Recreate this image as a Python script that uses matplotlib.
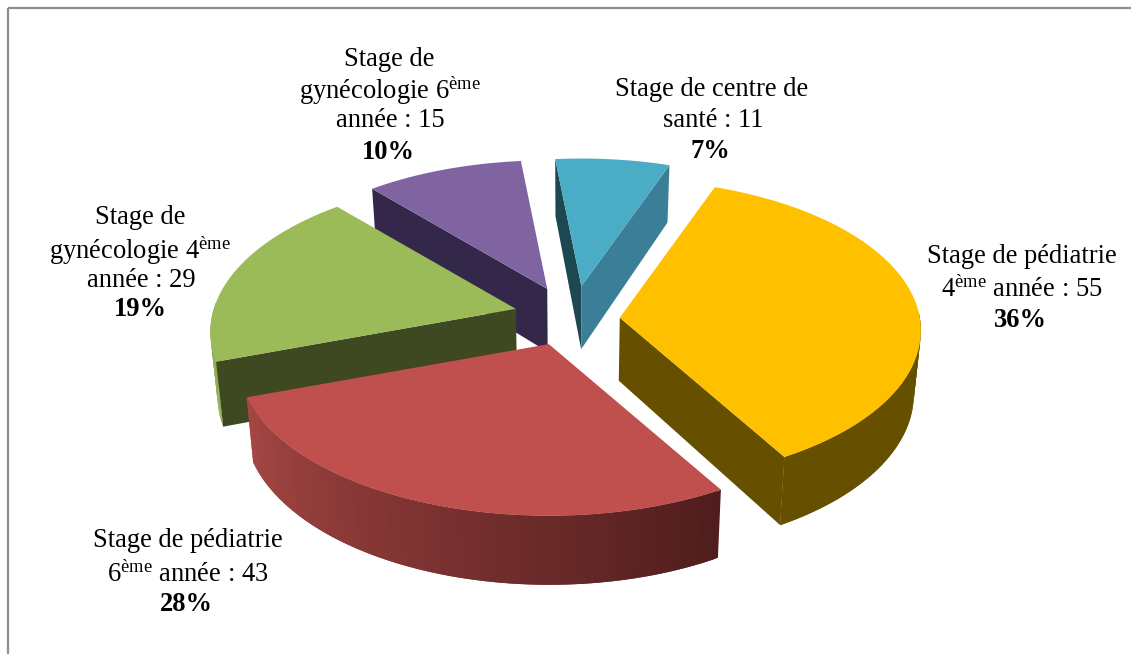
import numpy as np
import matplotlib
matplotlib.use("Agg")
import matplotlib.pyplot as plt
from matplotlib.colors import to_rgb

# --- data ---
categories = ["Stage de pédiatrie 4ème année", "Stage de pédiatrie 6ème année",
              "Stage de gynécologie 4ème année", "Stage de gynécologie 6ème année",
              "Stage de centre de santé"]
values = [55, 43, 29, 15, 11]
label_lines = [
    ["Stage de pédiatrie", "4$^{\\mathrm{ème}}$ année : 55"],
    ["Stage de pédiatrie", "6$^{\\mathrm{ème}}$ année : 43"],
    ["Stage de", "gynécologie 4$^{\\mathrm{ème}}$", "année : 29"],
    ["Stage de", "gynécologie 6$^{\\mathrm{ème}}$", "année : 15"],
    ["Stage de centre de", "santé : 11"],
]
percents = ["36%", "28%", "19%", "10%", "7%"]

# --- style / layout ---
start_angle = 70.0
squash = 0.5
cx, cy = 570.0, 315.0
explode_px = [50, 62, 56, 57, 60]
nudge_xy = [(0, 5), (0, 0), (0, 1), (0, 0), (4, 1)]
radius_px = [300, 310, 302, 298, 297]
persp = [0.085, 0.097, 0.15, 0.16, 0.163]
top_col = ["#FFC000", "#C0504D", "#9BBB59", "#8064A2", "#4BACC6"]
face_start = ["#665000", "#4F1D1D", "#3F4921", "#33284A", "#1D4751"]
face_end = ["#665000", "#A04341", "#3F4921", "#33284A", "#3A7F97"]
rim_start = ["#665000", "#4F1D1D", "#93AE55", "#33284A", "#3A7F97"]
rim_end = ["#665000", "#A64744", "#93AE55", "#33284A", "#3A7F97"]
draw_order = [3, 4, 2, 0, 1]
label_xy = [
    [(1022, 256.5), (1022, 289.5), (1020, 320.5)],
    [(188, 540.5), (188, 574.5), (186, 604.5)],
    [(140, 217.5), (140, 250.5), (141, 280.5), (140, 309.5)],
    [(389, 59.5), (390, 90.5), (390, 120.5), (388, 152.5)],
    [(712, 89.5), (713, 120.5), (710, 151.5)],
]
font_pt = 19.1

plt.rcParams["font.family"] = ["Liberation Serif", "DejaVu Serif"]
plt.rcParams["mathtext.fontset"] = "custom"
plt.rcParams["mathtext.rm"] = "Liberation Serif"
plt.rcParams["mathtext.default"] = "rm"

fig = plt.figure(figsize=(11.31, 6.54), dpi=100, facecolor="white")
ax = fig.add_axes([0, 0, 1, 1])
ax.set_xlim(0, 1131)
ax.set_ylim(654, 0)
ax.axis("off")

# frame (top and left rules)
ax.plot([8, 8], [8, 654], color="#8E8E8E", lw=1.6, solid_capstyle="butt")
ax.plot([8, 1131], [8, 8], color="#8E8E8E", lw=1.6, solid_capstyle="butt")


def depth(v):
    return 63 - 6 * v


def mix(c1, c2, t):
    a, b = np.array(to_rgb(c1)), np.array(to_rgb(c2))
    return tuple(a + (b - a) * t)


total = sum(values)
spans = np.array(values) / total * 360
starts = start_angle - np.concatenate([[0], np.cumsum(spans)[:-1]])

for z, i in enumerate(draw_order):
    z = 3 + z
    a0, a1 = starts[i], starts[i] - spans[i]
    mid = np.deg2rad((a0 + a1) / 2)
    ax0 = cx + explode_px[i] * np.cos(mid) + nudge_xy[i][0]
    ay0 = cy - squash * explode_px[i] * np.sin(mid) + nudge_xy[i][1]
    th = np.deg2rad(np.linspace(a0, a1, 120))
    v = np.sin(th)
    s = radius_px[i] / (1 + persp[i] * v)
    xs = ax0 + s * np.cos(th)
    ys = ay0 - squash * s * np.sin(th)
    xb = xs - 0.02 * (xs - cx)
    yb = ys + depth(v)
    axb, ayb = ax0 - 0.02 * (ax0 - cx), ay0 + depth(0)
    # outer rim, only the part turned towards the viewer; strips overlap to hide seams
    vis = np.where(v < 0.05)[0]
    if len(vis) > 1:
        for k in vis[:-1]:
            k2 = min(k + 2, vis[-1])
            c = mix(rim_start[i], rim_end[i], k / (len(th) - 2))
            ax.fill([xs[k], xs[k2], xb[k2], xb[k]],
                    [ys[k], ys[k2], yb[k2], yb[k]], color=c, lw=0, zorder=z)
    # radial faces, only when they look towards the viewer
    if np.cos(th[0]) < 0:
        ax.fill([ax0, xs[0], xb[0], axb], [ay0, ys[0], yb[0], ayb],
                color=face_start[i], lw=0, zorder=z)
    if np.cos(th[-1]) > 0:
        ax.fill([ax0, xs[-1], xb[-1], axb], [ay0, ys[-1], yb[-1], ayb],
                color=face_end[i], lw=0, zorder=z)
    # top surface
    ax.fill(np.r_[ax0, xs], np.r_[ay0, ys], color=top_col[i], lw=0, zorder=z)

for i, lines in enumerate(label_lines):
    for line, (x, y) in zip(lines, label_xy[i]):
        ax.text(x, y, line, ha="center", va="center", color="black",
                fontsize=font_pt, zorder=10)
    x, y = label_xy[i][-1]
    ax.text(x, y, percents[i], ha="center", va="center", color="black",
            fontsize=font_pt, fontweight="bold", zorder=10)

fig.savefig("out.png", dpi=100, facecolor="white")
